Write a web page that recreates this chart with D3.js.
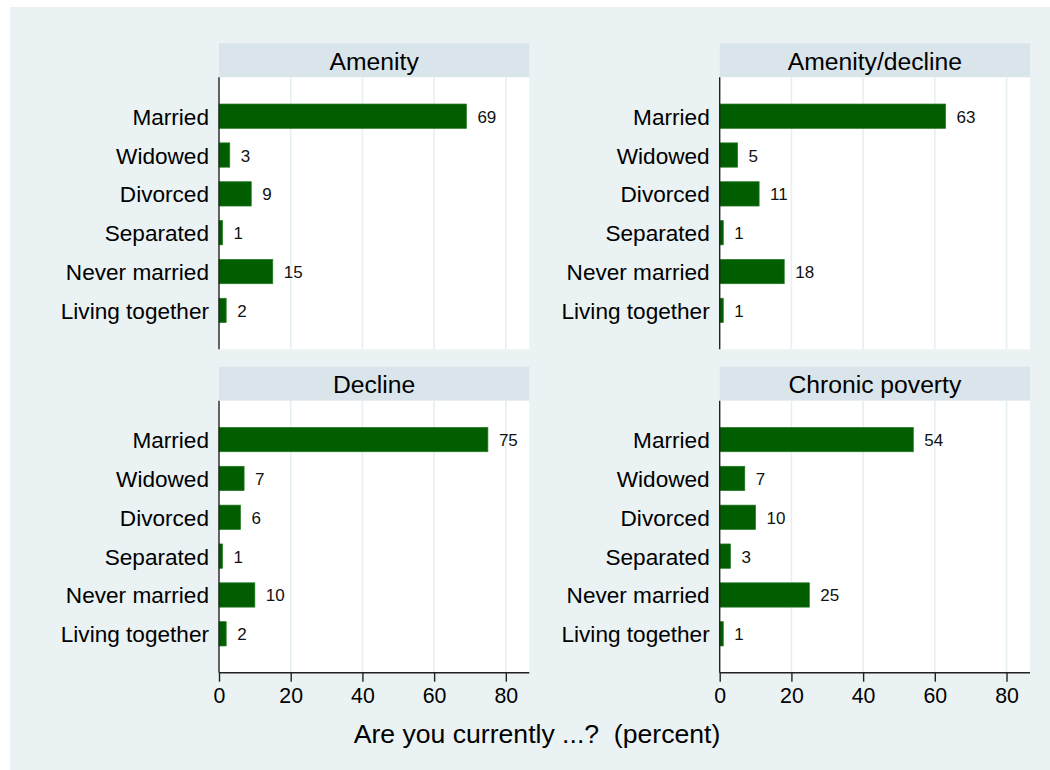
<!DOCTYPE html>
<html><head><meta charset="utf-8">
<script src="https://cdn.jsdelivr.net/npm/d3@7"></script>
<style>body{margin:0;background:#fff}svg{display:block}</style>
</head><body><svg id="c" width="1050" height="770"></svg>
<script>
// ---- data ----
const categories = ["Married", "Widowed", "Divorced", "Separated", "Never married", "Living together"];
const panelTitles = ["Amenity", "Amenity/decline", "Decline", "Chronic poverty"];
const amenity = [69, 3, 9, 1, 15, 2];
const amenityDecline = [63, 5, 11, 1, 18, 1];
const decline = [75, 7, 6, 1, 10, 2];
const chronicPoverty = [54, 7, 10, 3, 25, 1];
const xTicks = [0, 20, 40, 60, 80];
const xTitle = "Are you currently ...?  (percent)";

const panelValues = [amenity, amenityDecline, decline, chronicPoverty];

// ---- layout ----
const FONT = "'Liberation Sans', Arial, Helvetica, sans-serif";
const svg = d3.select("#c");
svg.append("rect").attr("x", 10).attr("y", 7).attr("width", 1040).attr("height", 763).attr("fill", "#EAF2F3");

const plotW = 310.3, plotH = 272, stripH = 34;
const colX = [219, 719.7];
const rowY = [77.3, 400.7]; // plot tops
const x = d3.scaleLinear().domain([0, 86.55]).range([0, plotW]);
const y = d3.scaleBand().domain(categories).range([0, plotH]).paddingInner(0.374).paddingOuter(0.688);

panelTitles.forEach((title, i) => {
  const col = i % 2, row = Math.floor(i / 2);
  const g = svg.append("g").attr("transform", `translate(${colX[col]},${rowY[row]})`);
  const vals = panelValues[i];
  const data = categories.map((c, k) => ({cat: c, v: vals[k]}));

  // strip
  g.append("rect").attr("x", 0).attr("y", -stripH).attr("width", plotW).attr("height", stripH).attr("fill", "#D9E5EA");
  g.append("text").attr("x", plotW / 2).attr("y", -stripH / 2 + 1).attr("text-anchor", "middle")
    .attr("dominant-baseline", "central").attr("font-family", FONT).attr("font-size", 24.7).attr("fill", "#000").text(title);

  // plot area
  g.append("rect").attr("width", plotW).attr("height", plotH).attr("fill", "#fff");
  g.selectAll("line.grid").data(xTicks.filter(t => t > 0)).join("line").attr("class", "grid")
    .attr("x1", d => x(d)).attr("x2", d => x(d)).attr("y1", 0).attr("y2", plotH)
    .attr("stroke", "#E6EFF1").attr("stroke-width", 1.6);

  // bars
  g.selectAll("rect.bar").data(data).join("rect").attr("class", "bar")
    .attr("x", x(0)).attr("y", d => y(d.cat)).attr("width", d => x(d.v) - x(0)).attr("height", y.bandwidth())
    .attr("fill", "#005E00").attr("stroke", "#237a23").attr("stroke-width", 0.7);

  // value labels
  g.selectAll("text.val").data(data).join("text").attr("class", "val")
    .attr("x", d => x(d.v) + 11).attr("y", d => y(d.cat) + y.bandwidth() / 2 + 1)
    .attr("dominant-baseline", "central").attr("font-family", FONT).attr("font-size", 17).attr("fill", "#111")
    .text(d => d3.format(".0f")(d.v));

  // category labels
  g.selectAll("text.cat").data(data).join("text").attr("class", "cat")
    .attr("x", -10).attr("y", d => y(d.cat) + y.bandwidth() / 2 + 1)
    .attr("text-anchor", "end").attr("dominant-baseline", "central")
    .attr("font-family", FONT).attr("font-size", 22.6).attr("fill", "#000").text(d => d.cat);

  // y axis line
  g.append("line").attr("x1", 0).attr("x2", 0).attr("y1", 0).attr("y2", plotH).attr("stroke", "#222").attr("stroke-width", 1.4);

  // x axis on bottom row
  if (row === 1) {
    const ax = g.append("g").attr("transform", `translate(0,${plotH})`)
      .call(d3.axisBottom(x).tickValues(xTicks).tickSize(9).tickPadding(6).tickFormat(d3.format("d")));
    ax.select(".domain").attr("stroke", "#222").attr("stroke-width", 1.4).attr("d", `M0,0H${plotW}`);
    ax.selectAll(".tick line").attr("stroke", "#222").attr("stroke-width", 1.4);
    ax.selectAll(".tick text").attr("font-family", FONT).attr("font-size", 21.3).attr("fill", "#000");
  }
});

svg.append("text").attr("x", 537).attr("y", 743).attr("text-anchor", "middle")
  .attr("font-family", FONT).attr("font-size", 26.6).attr("fill", "#000").style("white-space", "pre").text(xTitle);
</script>
</body></html>
